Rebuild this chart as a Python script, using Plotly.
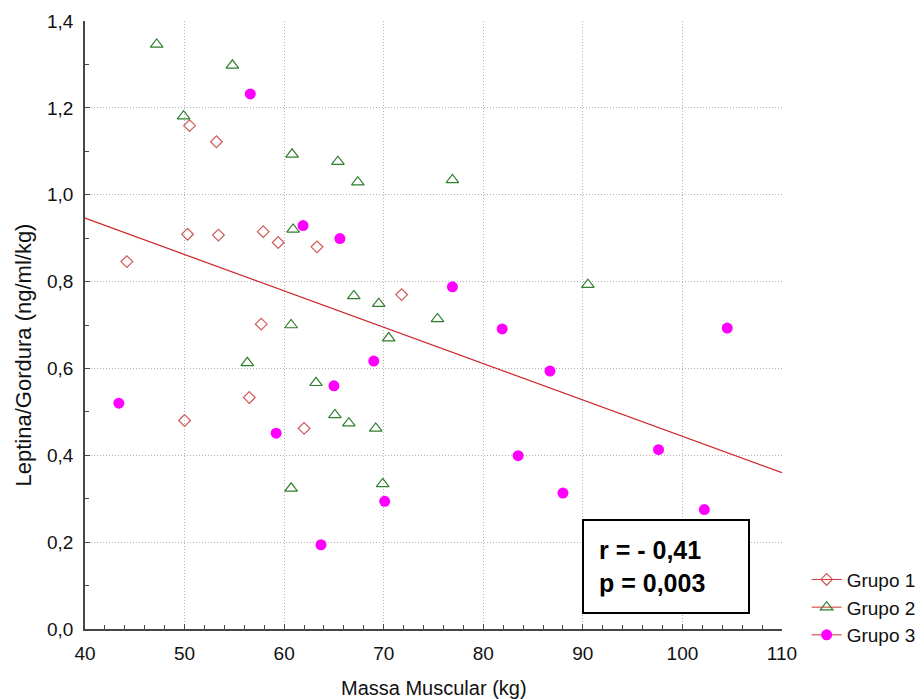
import plotly.graph_objects as go

# ---- data ----
g1_x = [44.2, 50.5, 53.2, 50.3, 53.4, 57.9, 59.4, 63.3, 57.7, 56.5, 50.0, 62.0, 71.8]
g1_y = [0.846, 1.159, 1.122, 0.909, 0.907, 0.915, 0.890, 0.880, 0.702, 0.533, 0.480, 0.462, 0.770]

g2_x = [47.2, 54.8, 49.9, 60.8, 60.9, 60.7, 65.4, 67.4, 76.9, 67.0, 69.5, 75.4, 90.5,
        70.5, 63.2, 65.1, 66.5, 69.2, 69.9, 56.3, 60.7]
g2_y = [1.346, 1.298, 1.181, 1.093, 0.920, 0.700, 1.076, 1.029, 1.034, 0.767, 0.749, 0.714, 0.793,
        0.670, 0.567, 0.493, 0.474, 0.462, 0.334, 0.613, 0.324]

g3_x = [56.6, 61.9, 65.6, 76.9, 81.9, 104.5, 69.0, 65.0, 86.7, 83.5, 88.0, 70.1, 63.7,
        97.6, 102.2, 43.4, 59.2]
g3_y = [1.232, 0.929, 0.899, 0.788, 0.691, 0.693, 0.617, 0.560, 0.594, 0.399, 0.313, 0.294, 0.194,
        0.413, 0.275, 0.520, 0.451]

fit_x = [40, 110]
fit_y = [0.946, 0.360]

x_grid = [50, 60, 70, 80, 90, 100]
y_grid = [0.2, 0.4, 0.6, 0.8, 1.0, 1.2]

group_names = ["Grupo 1", "Grupo 2", "Grupo 3"]
x_title = "Massa Muscular (kg)"
y_title = "Leptina/Gordura (ng/ml/kg)"
stats_text = "<b>r = - 0,41<br>p = 0,003</b>"

FONT = "Liberation Sans, Arial, sans-serif"
LINE_RED = "#d03030"
C1 = "#cc5a55"
C2 = "#2f7f2f"
C3 = "#ff00ff"
AXIS = "#474747"
GRID = "#b4b4b4"
TXT = "#111111"

fig = go.Figure()

# carrier trace for the grid-only overlay axes
fig.add_trace(go.Scatter(x=[None], y=[None], xaxis="x2", yaxis="y2",
                         showlegend=False, hoverinfo="skip"))

# regression line
fig.add_trace(go.Scatter(x=fit_x, y=fit_y, mode="lines",
                         line=dict(color="#cc2222", width=1.2),
                         showlegend=False, hoverinfo="skip"))

markers = [
    dict(symbol="diamond-open", size=9, color=C1, line=dict(color=C1, width=1.2)),
    dict(symbol="triangle-up-open", size=11, color=C2, line=dict(color=C2, width=1.2)),
    dict(symbol="circle", size=11, color=C3, line=dict(width=0)),
]
data = [(g1_x, g1_y), (g2_x, g2_y), (g3_x, g3_y)]

for i, ((xs, ys), mk, nm) in enumerate(zip(data, markers, group_names)):
    fig.add_trace(go.Scatter(x=xs, y=ys, mode="markers", marker=mk, name=nm,
                             legendgroup=f"g{i}", showlegend=False))
    # legend entry (line + marker, like the original legend)
    fig.add_trace(go.Scatter(x=[None], y=[None], mode="lines+markers", marker=mk, name=nm,
                             line=dict(color=LINE_RED, width=1),
                             legendgroup=f"g{i}", showlegend=True))

fig.update_layout(
    width=924, height=699,
    margin=dict(l=85, r=142, t=21, b=70, autoexpand=False),
    paper_bgcolor="white", plot_bgcolor="white",
    separators=", ",
    font=dict(family=FONT, color=TXT, size=19),
    showlegend=True,
    legend=dict(xref="container", yref="container", x=0.873, y=0.198,
                xanchor="left", yanchor="top",
                font=dict(family=FONT, size=19, color=TXT),
                bgcolor="rgba(0,0,0,0)", borderwidth=0,
                tracegroupgap=0, itemwidth=30),
    xaxis=dict(
        range=[40, 110], dtick=10, tick0=40, automargin=False,
        showline=True, linecolor=AXIS, linewidth=1.5,
        ticks="inside", ticklen=5, tickcolor=AXIS, tickwidth=1,
        minor=dict(dtick=2, ticks="inside", ticklen=4, tickcolor=AXIS, showgrid=False),
        showgrid=False, zeroline=False,
        tickfont=dict(family=FONT, size=19, color=TXT),
        ticklabelstandoff=6,
    ),
    yaxis=dict(
        range=[0, 1.4], dtick=0.2, tick0=0, tickformat=".1f", automargin=False,
        showline=True, linecolor=AXIS, linewidth=1.5,
        ticks="inside", ticklen=5, tickcolor=AXIS, tickwidth=1,
        minor=dict(dtick=0.1, ticks="inside", ticklen=4, tickcolor=AXIS, showgrid=False),
        showgrid=False, zeroline=False,
        tickfont=dict(family=FONT, size=19, color=TXT),
        ticklabelstandoff=6,
    ),
    xaxis2=dict(overlaying="x", anchor="y", side="top", range=[40, 110], automargin=False,
                tickmode="array", tickvals=x_grid, showticklabels=False, ticks="",
                showline=False, zeroline=False,
                showgrid=True, gridcolor=GRID, griddash="1px,2px", gridwidth=1),
    yaxis2=dict(overlaying="y", anchor="x", side="right", range=[0, 1.4], automargin=False,
                tickmode="array", tickvals=y_grid, showticklabels=False, ticks="",
                showline=False, zeroline=False,
                showgrid=True, gridcolor=GRID, griddash="1px,2px", gridwidth=1),
)

# axis titles placed as in the reference
fig.add_annotation(text=x_title, xref="paper", yref="paper", x=0.5, y=-0.0965,
                   showarrow=False, xanchor="center", yanchor="middle",
                   font=dict(family=FONT, size=20, color=TXT))
fig.add_annotation(text=y_title, xref="paper", yref="paper", x=-0.088, y=0.451,
                   textangle=-90, showarrow=False, xanchor="center", yanchor="middle",
                   font=dict(family=FONT, size=22, color=TXT))

# statistics box
fig.add_annotation(text=stats_text, xref="x", yref="y", x=98.3, y=0.145,
                   showarrow=False, xanchor="center", yanchor="middle",
                   align="left", width=134, borderpad=15, borderwidth=2,
                   bordercolor="black", bgcolor="white",
                   font=dict(family=FONT, size=25, color="black"))

fig.write_html("out.html")
